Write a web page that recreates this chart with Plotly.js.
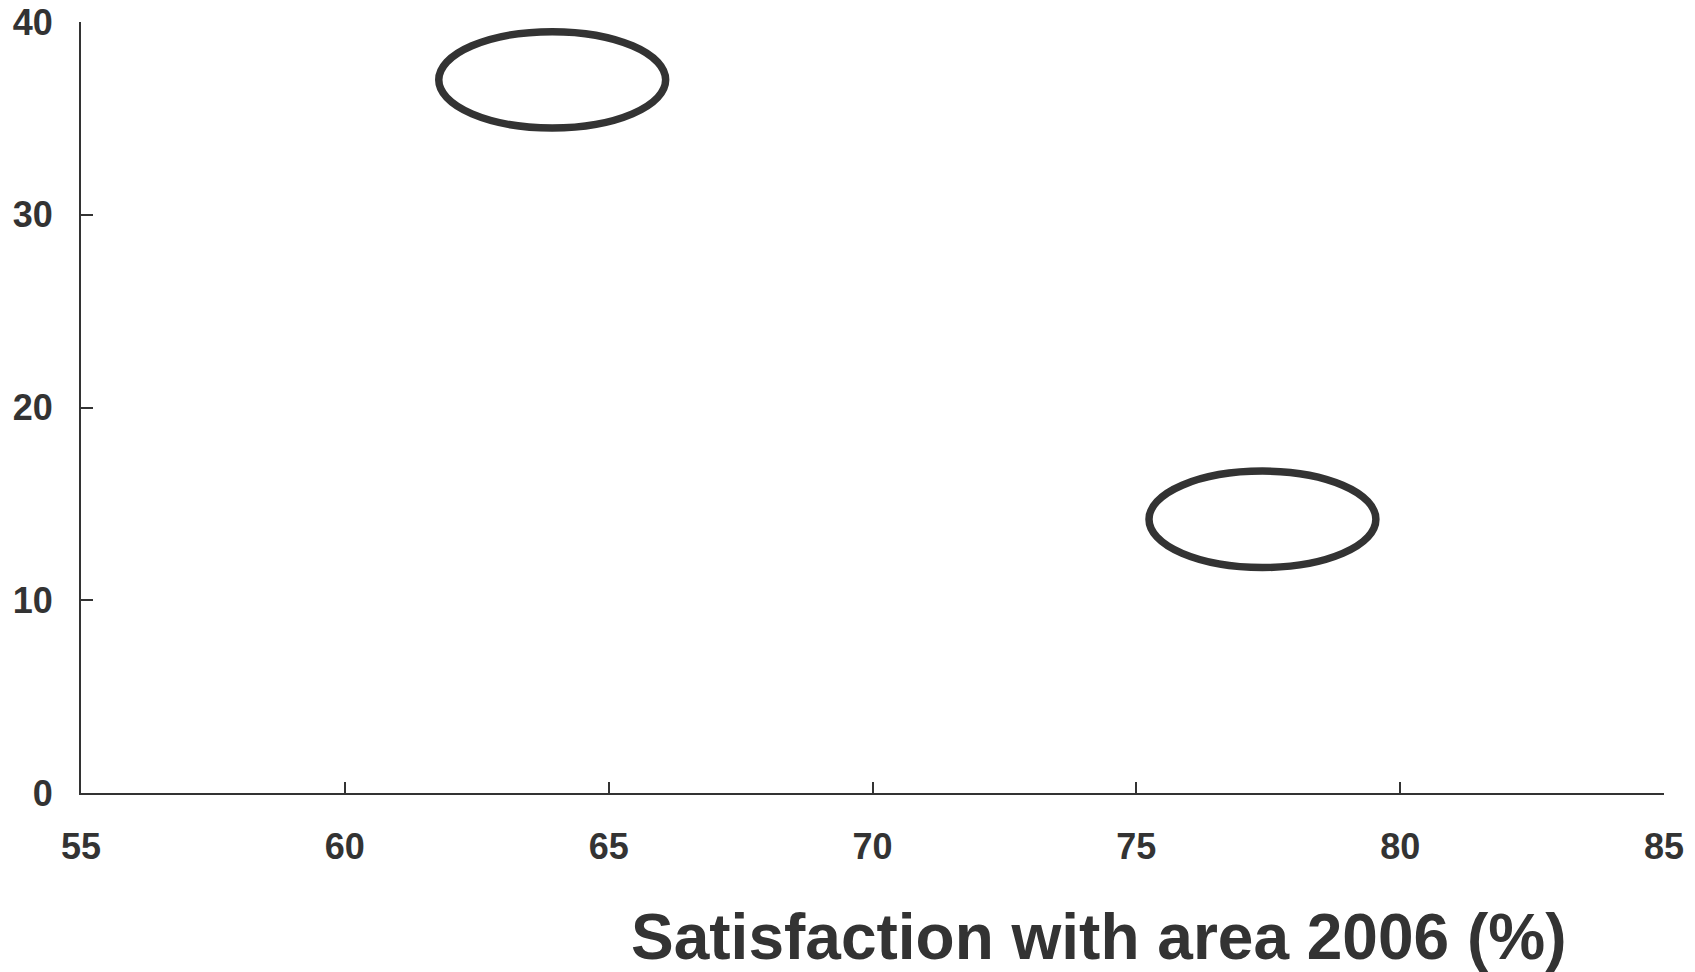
<!DOCTYPE html>
<html>
<head>
<meta charset="utf-8">
<script src="https://cdn.plot.ly/plotly-3.0.1.min.js"></script>
<style>html,body{margin:0;padding:0;background:#fff;}#chart{width:1695px;height:972px;}</style>
</head>
<body>
<div id="chart"></div>
<script>
// Data
const centerX = [63.93, 77.39];
const centerY = [37.0, 14.2];
const radiusX = [2.15, 2.15];
const radiusY = [2.5, 2.5];
const xTickVals = [55, 60, 65, 70, 75, 80, 85];
const yTickVals = [0, 10, 20, 30, 40];
const xTitle = 'Satisfaction with area 2006 (%)';

const ink = '#333333';

const shapes = centerX.map((cx, i) => ({
  type: 'circle', xref: 'x', yref: 'y',
  x0: cx - radiusX[i], x1: cx + radiusX[i],
  y0: centerY[i] - radiusY[i], y1: centerY[i] + radiusY[i],
  line: {color: ink, width: 7.5}, fillcolor: 'rgba(0,0,0,0)'
}));

const trace = {x: centerX, y: centerY, type: 'scatter', mode: 'markers',
  marker: {opacity: 0}, hoverinfo: 'skip', showlegend: false};

const tickFont = {family: 'Liberation Sans, Arial, sans-serif', size: 36, weight: 'bold', color: ink};

const layout = {
  width: 1695, height: 972,
  margin: {l: 81, r: 31, t: 22, b: 179},
  paper_bgcolor: '#ffffff', plot_bgcolor: '#ffffff',
  showlegend: false,
  xaxis: {range: [55, 85], tickvals: xTickVals, ticks: 'inside', ticklen: 11, tickwidth: 2, tickcolor: ink,
    showline: true, linecolor: ink, linewidth: 2, showgrid: false, zeroline: false,
    tickfont: tickFont, ticklabelstandoff: 21},
  yaxis: {range: [0, 40], tickvals: yTickVals, ticks: 'inside', ticklen: 12, tickwidth: 2, tickcolor: ink,
    showline: true, linecolor: ink, linewidth: 2, showgrid: false, zeroline: false,
    tickfont: tickFont, ticklabelstandoff: 19},
  shapes: shapes,
  annotations: [{text: xTitle, xref: 'paper', yref: 'paper', x: 0.6427, y: -0.187,
    xanchor: 'center', yanchor: 'middle', showarrow: false,
    font: {family: 'Liberation Sans, Arial, sans-serif', size: 64, weight: 'bold', color: ink}}]
};

Plotly.newPlot('chart', [trace], layout, {displayModeBar: false, staticPlot: true});
</script>
</body>
</html>
